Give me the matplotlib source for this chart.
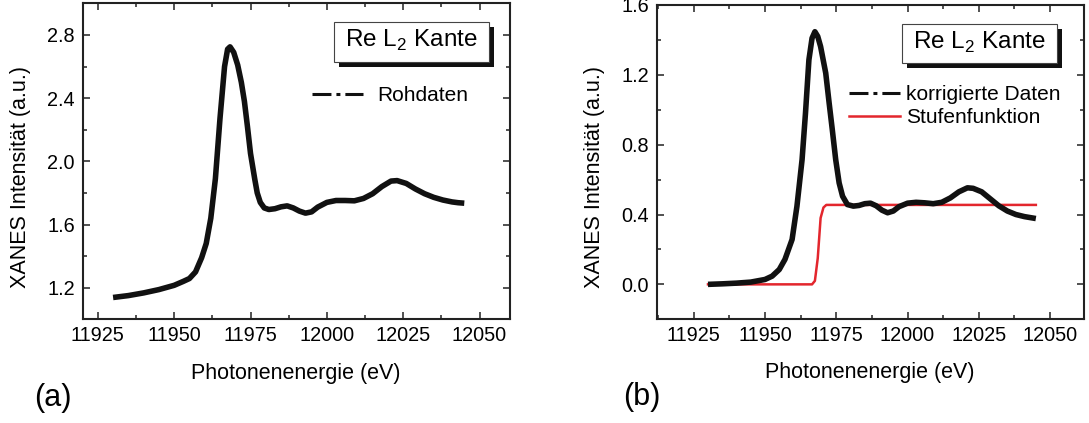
import matplotlib
matplotlib.use('Agg')
import matplotlib.pyplot as plt
from matplotlib.lines import Line2D
from matplotlib.patches import Rectangle
from matplotlib.ticker import MultipleLocator, FormatStrFormatter

plt.rcParams['font.family'] = ['Liberation Sans', 'DejaVu Sans']

# (a) raw data
energyA = [11930, 11935, 11940, 11945, 11950, 11953, 11955, 11957, 11959, 11960.5,
           11962, 11963.5, 11965, 11966.5, 11967.5, 11968.3, 11969.5, 11970.8, 11972, 11973,
           11974, 11975, 11976.4, 11977.2, 11978.2, 11979.5, 11981, 11983, 11985, 11987,
           11989, 11991, 11993, 11995, 11997, 12000, 12003, 12006, 12009, 12012,
           12015, 12018, 12021, 12023, 12026, 12029, 12032, 12035, 12038, 12041,
           12043, 12045]
rawA = [1.138, 1.150, 1.167, 1.188, 1.215, 1.240, 1.258, 1.300, 1.390, 1.480,
        1.640, 1.890, 2.270, 2.600, 2.710, 2.725, 2.690, 2.610, 2.500, 2.380,
        2.220, 2.050, 1.886, 1.800, 1.740, 1.705, 1.695, 1.700, 1.712, 1.718,
        1.705, 1.685, 1.672, 1.680, 1.710, 1.740, 1.752, 1.752, 1.750, 1.765,
        1.795, 1.840, 1.875, 1.878, 1.860, 1.825, 1.795, 1.772, 1.755, 1.743,
        1.738, 1.735]

# (b) corrected data
energyB = [11930, 11935, 11940, 11945, 11950, 11952.5, 11955, 11957, 11959.5, 11961.2,
           11963, 11964.2, 11965.4, 11966.5, 11967.5, 11968.5, 11969.5, 11971.3, 11972.5, 11973.6,
           11974.8, 11976, 11977.2, 11978.9, 11981, 11983, 11985, 11987, 11989, 11991,
           11993, 11995, 11997, 12000, 12003, 12006, 12009, 12012, 12015, 12018,
           12021, 12023, 12026, 12029, 12032, 12035, 12038, 12041, 12045]
corrB = [0.000, 0.003, 0.007, 0.013, 0.028, 0.047, 0.085, 0.143, 0.257, 0.447,
         0.714, 0.981, 1.286, 1.410, 1.447, 1.420, 1.362, 1.210, 1.038, 0.886,
         0.714, 0.581, 0.505, 0.457, 0.448, 0.452, 0.462, 0.465, 0.450, 0.425,
         0.410, 0.420, 0.445, 0.465, 0.470, 0.467, 0.462, 0.470, 0.495, 0.530,
         0.553, 0.550, 0.530, 0.490, 0.450, 0.420, 0.400, 0.388, 0.377]

# step function
energyStep = [11930, 11966.5, 11967.5, 11968.5, 11969.5, 11970.5, 11971.5, 12045]
step = [0.0, 0.0, 0.02, 0.15, 0.38, 0.44, 0.455, 0.455]

red = '#e3262d'
dashdot = (0, (6.2, 1.63, 1.3, 1.63))
boxText = 'Re L$_\\mathregular{2}$ Kante'


def styleAxes(ax, xlim, ylim):
    ax.set_xlim(*xlim)
    ax.set_ylim(*ylim)
    ax.xaxis.set_major_locator(MultipleLocator(25))
    ax.xaxis.set_minor_locator(MultipleLocator(12.5))
    ax.yaxis.set_major_locator(MultipleLocator(0.4))
    ax.yaxis.set_minor_locator(MultipleLocator(0.2))
    ax.yaxis.set_major_formatter(FormatStrFormatter('%.1f'))
    ax.tick_params(which='both', direction='in', top=True, right=True,
                   labelsize=14.3, width=1.1, color='#222222')
    ax.tick_params(which='major', length=5)
    ax.tick_params(which='minor', length=2.7)
    ax.tick_params(axis='y', pad=5.5)
    ax.tick_params(axis='x', pad=4.7)
    for s in ax.spines.values():
        s.set_linewidth(1.5)
        s.set_color('#222222')


def titleBox(ax, x0, x1, y0, y1):
    ax.add_patch(Rectangle((x0 + 0.012, y0 - 0.017), x1 - x0, y1 - y0,
                           transform=ax.transAxes, facecolor='#111111',
                           edgecolor='none', zorder=4))
    ax.add_patch(Rectangle((x0, y0), x1 - x0, y1 - y0, transform=ax.transAxes,
                           facecolor='white', edgecolor='#444444', lw=0.8, zorder=5))
    ax.text((x0 + x1) / 2, (y0 + y1) / 2 + 0.005, boxText, transform=ax.transAxes,
            ha='center', va='center', fontsize=17.5, zorder=6)


fig = plt.figure(figsize=(10.89, 4.23), dpi=100)
axA = fig.add_axes([0.0758, 0.2452, 0.3926, 0.7468])
axB = fig.add_axes([0.6030, 0.2452, 0.3927, 0.7430])

# panel (a)
axA.plot(energyA, rawA, color='#111111', lw=4, solid_joinstyle='round',
         solid_capstyle='butt')
styleAxes(axA, (11920, 12060), (1.0, 3.0))
titleBox(axA, 0.587, 0.950, 0.815, 0.941)
hA = [Line2D([], [], color='#111111', lw=2.2, ls=dashdot)]
axA.legend(hA, ['Rohdaten'], loc='center left', bbox_to_anchor=(0.536, 0.708),
           frameon=False, fontsize=15, handlelength=2.48, handletextpad=0.66,
           borderpad=0, borderaxespad=0)

# panel (b)
axB.plot(energyStep, step, color=red, lw=1.8)
axB.plot(energyB, corrB, color='#111111', lw=4, solid_joinstyle='round',
         solid_capstyle='butt')
styleAxes(axB, (11912, 12062), (-0.2, 1.6))
titleBox(axB, 0.574, 0.935, 0.815, 0.940)
hB = [Line2D([], [], color='#111111', lw=2.2, ls=dashdot),
      Line2D([], [], color=red, lw=1.8)]
axB.legend(hB, ['korrigierte Daten', 'Stufenfunktion'], loc='center left',
           bbox_to_anchor=(0.450, 0.6785), frameon=False, fontsize=15,
           handlelength=2.42, handletextpad=0.31, labelspacing=0.19,
           borderpad=0, borderaxespad=0)

# labels
fig.text(0.272, 0.116, 'Photonenenergie (eV)', ha='center', va='center', fontsize=15.5)
fig.text(0.799, 0.119, 'Photonenenergie (eV)', ha='center', va='center', fontsize=15.5)
fig.text(0.0186, 0.581, 'XANES Intensität (a.u.)', rotation=90, ha='center',
         va='center', fontsize=15.5)
fig.text(0.546, 0.581, 'XANES Intensität (a.u.)', rotation=90, ha='center',
         va='center', fontsize=15.5)
fig.text(0.0487, 0.059, '(a)', ha='center', va='center', fontsize=22)
fig.text(0.589, 0.0605, '(b)', ha='center', va='center', fontsize=22)

fig.savefig('out.png', dpi=100)
